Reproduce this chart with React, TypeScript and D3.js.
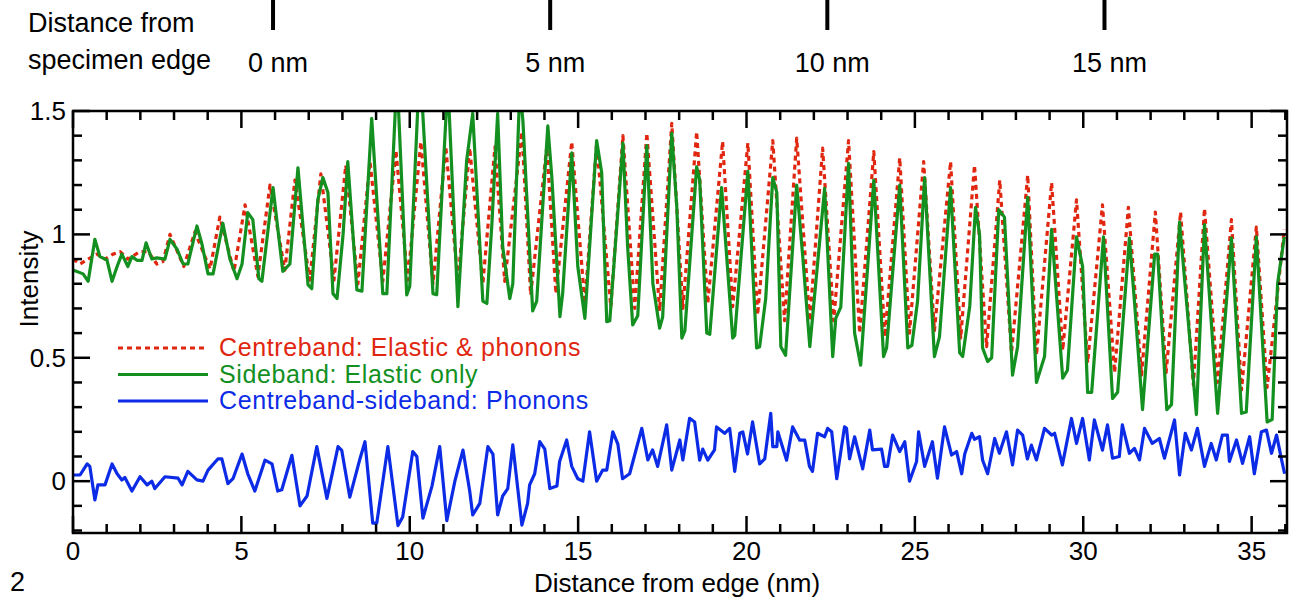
import React from "react";
import * as d3 from "d3";

// axis ticks
const xTicks = [0, 5, 10, 15, 20, 25, 30, 35];
const yTicks = [0, 0.5, 1, 1.5];
const yTickLabels = ["0", "0.5", "1", "1.5"];
const edgeTicks = [0, 5, 10, 15];
const edgeLabels = ["0 nm", "5 nm", "10 nm", "15 nm"];
// specimen-edge distance s sits at beam distance edgeStart + edgeStretch * s
const edgeStart = 5.94;
const edgeStretch = 1.646;

const legendLabels = [
  "Centreband: Elastic & phonons",
  "Sideband: Elastic only",
  "Centreband-sideband: Phonons",
];

// [distance (nm), intensity]
const centreband: [number, number][] = [
  [0, 0.9], [0.21, 0.88], [0.45, 0.9], [0.71, 0.92], [0.95, 0.9], [1.19, 0.92], [1.4, 0.93], [1.63, 0.9],
  [1.99, 0.93], [2.23, 0.93], [2.49, 0.88], [2.67, 0.89], [2.88, 1.0], [3.29, 0.87], [3.62, 1.01], [4.07, 0.86],
  [4.36, 1.07], [4.78, 0.85], [5.11, 1.12], [5.49, 0.83], [5.85, 1.2], [6.29, 0.855], [6.59, 1.22], [7.03, 0.815],
  [7.36, 1.245], [7.75, 0.815], [8.1, 1.28], [8.46, 0.8], [8.82, 1.295], [9.2, 0.81], [9.59, 1.34], [9.94, 0.815],
  [10.33, 1.375], [10.69, 0.8], [11.07, 1.355], [11.43, 0.81], [11.78, 1.35], [12.17, 0.8], [12.53, 1.355], [12.82, 0.81],
  [13.33, 1.416], [13.59, 0.755], [14.07, 1.355], [14.34, 0.76], [14.81, 1.375], [15.2, 0.72], [15.55, 1.37], [15.97, 0.707],
  [16.33, 1.4], [16.68, 0.7], [17.04, 1.41], [17.42, 0.69], [17.78, 1.45], [18.11, 0.7], [18.52, 1.416], [18.85, 0.72],
  [19.29, 1.376], [19.59, 0.707], [20.04, 1.37], [20.33, 0.674], [20.78, 1.38], [21.13, 0.65], [21.49, 1.39], [21.88, 0.65],
  [22.26, 1.35], [22.59, 0.65], [23.03, 1.38], [23.36, 0.6], [23.78, 1.335], [24.11, 0.585], [24.55, 1.31], [24.84, 0.6],
  [25.26, 1.295], [25.58, 0.61], [26.06, 1.295], [26.36, 0.58], [26.77, 1.28], [27.13, 0.545], [27.52, 1.22], [27.87, 0.52],
  [28.35, 1.24], [28.61, 0.51], [29.06, 1.21], [29.39, 0.53], [29.8, 1.14], [30.13, 0.48], [30.57, 1.12], [30.93, 0.44],
  [31.34, 1.11], [31.73, 0.43], [32.14, 1.09], [32.46, 0.44], [32.89, 1.09], [33.27, 0.39], [33.6, 1.105], [33.99, 0.4],
  [34.4, 1.06], [34.7, 0.37], [35.14, 1.03], [35.46, 0.38], [35.97, 1.02],
];

const sideband: [number, number][] = [
  [0, 0.856], [0.3, 0.84], [0.45, 0.81], [0.65, 0.98], [0.8, 0.91], [1.01, 0.896], [1.16, 0.81], [1.31, 0.87],
  [1.45, 0.92], [1.63, 0.87], [1.75, 0.91], [1.9, 0.895], [2.05, 0.895], [2.17, 0.966], [2.34, 0.9], [2.49, 0.905],
  [2.73, 0.9], [2.88, 0.98], [3.09, 0.94], [3.27, 0.88], [3.41, 0.88], [3.68, 1.034], [3.83, 0.96], [4.01, 0.84],
  [4.16, 0.84], [4.45, 1.045], [4.66, 0.9], [4.87, 0.82], [5.02, 0.88], [5.19, 1.088], [5.34, 1.06], [5.52, 0.82],
  [5.61, 0.81], [5.94, 1.19], [6.23, 0.85], [6.44, 0.88], [6.68, 1.27], [6.98, 0.795], [7.09, 0.78], [7.27, 1.14],
  [7.42, 1.23], [7.57, 1.17], [7.72, 0.76], [7.84, 0.74], [8.02, 1.0], [8.16, 1.295], [8.43, 0.775], [8.58, 0.77],
  [8.87, 1.47], [9.2, 0.76], [9.32, 0.76], [9.62, 1.65], [9.91, 0.755], [10.0, 0.79], [10.3, 1.7], [10.69, 0.76],
  [10.8, 0.755], [11.13, 1.62], [11.43, 0.707], [11.69, 1.3], [11.87, 1.49], [12.17, 0.73], [12.29, 0.72], [12.44, 1.045],
  [12.61, 1.49], [12.76, 0.95], [12.97, 0.74], [13.06, 0.8], [13.27, 1.6], [13.36, 1.46], [13.65, 0.69], [13.77, 0.73],
  [14.1, 1.44], [14.22, 1.23], [14.46, 0.667], [14.54, 0.76], [14.81, 1.33], [14.99, 0.87], [15.2, 0.66], [15.55, 1.38],
  [15.7, 1.25], [15.85, 0.646], [15.94, 0.65], [16.33, 1.37], [16.47, 0.95], [16.62, 0.633], [16.77, 0.67], [17.04, 1.36],
  [17.22, 0.8], [17.42, 0.62], [17.51, 0.665], [17.78, 1.41], [17.93, 1.11], [18.08, 0.58], [18.17, 0.61], [18.52, 1.274],
  [18.61, 1.22], [18.82, 0.6], [18.91, 0.595], [19.26, 1.19], [19.59, 0.58], [19.65, 0.59], [20.04, 1.255], [20.3, 0.54],
  [20.39, 0.545], [20.57, 0.74], [20.78, 1.23], [20.9, 1.17], [21.02, 0.545], [21.16, 0.51], [21.49, 1.2], [21.67, 0.91],
  [21.88, 0.545], [22.32, 1.187], [22.56, 0.505], [22.65, 0.66], [22.8, 0.705], [23.03, 1.288], [23.21, 0.6], [23.39, 0.47],
  [23.78, 1.22], [24.07, 0.505], [24.16, 0.54], [24.55, 1.2], [24.79, 0.54], [24.91, 0.55], [25.08, 0.73], [25.29, 1.23],
  [25.58, 0.505], [25.73, 0.585], [26.06, 1.19], [26.33, 0.52], [26.42, 0.505], [26.63, 0.71], [26.8, 1.11], [26.92, 1.0],
  [27.01, 0.54], [27.16, 0.485], [27.28, 0.5], [27.49, 1.1], [27.66, 1.07], [27.9, 0.43], [28.05, 0.545], [28.35, 1.15],
  [28.61, 0.4], [28.85, 0.505], [29.06, 1.02], [29.39, 0.417], [29.53, 0.45], [29.8, 0.99], [29.98, 0.87], [30.13, 0.36],
  [30.25, 0.36], [30.6, 0.99], [30.87, 0.335], [31.02, 0.36], [31.37, 0.985], [31.52, 0.73], [31.76, 0.29], [32.12, 0.92],
  [32.21, 0.92], [32.48, 0.29], [32.62, 0.31], [32.86, 1.05], [33.36, 0.27], [33.6, 1.04], [33.99, 0.275], [34.4, 0.985],
  [34.7, 0.275], [34.84, 0.28], [35.14, 0.99], [35.46, 0.24], [35.61, 0.25], [35.77, 0.8], [35.97, 0.99],
];

const phonons: [number, number][] = [
  [0, 0.025], [0.21, 0.025], [0.42, 0.07], [0.5, 0.06], [0.65, -0.076], [0.74, -0.015], [0.95, -0.015], [1.16, 0.07],
  [1.31, 0.03], [1.45, 0.005], [1.54, 0.015], [1.75, -0.04], [1.99, 0.018], [2.2, -0.015], [2.34, 0.0], [2.43, -0.03],
  [2.73, 0.018], [3.12, 0.012], [3.24, -0.015], [3.41, 0.04], [3.68, 0.005], [3.86, 0.0], [4.01, 0.045], [4.3, 0.09],
  [4.42, 0.09], [4.6, -0.01], [4.75, 0.01], [5.02, 0.11], [5.19, 0.03], [5.4, -0.04], [5.7, 0.085], [5.91, 0.07],
  [6.08, -0.04], [6.2, -0.035], [6.5, 0.105], [6.74, -0.1], [6.95, -0.06], [7.24, 0.14], [7.54, -0.07], [7.87, 0.14],
  [7.98, 0.125], [8.22, -0.065], [8.52, 0.09], [8.67, 0.16], [8.9, -0.17], [9.02, -0.17], [9.35, 0.14], [9.65, -0.18],
  [9.79, -0.145], [10.09, 0.12], [10.21, 0.1], [10.39, -0.15], [10.66, -0.02], [10.89, 0.14], [11.1, -0.16], [11.34, 0.0],
  [11.58, 0.126], [11.78, -0.04], [11.87, -0.137], [12.08, -0.09], [12.32, 0.14], [12.47, 0.11], [12.61, -0.137], [12.76, -0.06],
  [12.91, -0.03], [13.06, 0.147], [13.33, -0.178], [13.5, -0.09], [13.56, -0.015], [13.71, 0.03], [13.86, 0.16], [14.01, 0.13],
  [14.16, -0.03], [14.37, -0.02], [14.45, 0.08], [14.66, 0.167], [14.81, 0.06], [14.99, 0.01], [15.14, 0.0], [15.34, 0.2],
  [15.55, 0.0], [15.73, 0.045], [15.85, 0.045], [16.03, 0.2], [16.18, 0.15], [16.32, 0.01], [16.53, 0.03], [16.89, 0.214],
  [17.07, 0.086], [17.21, 0.127], [17.36, 0.06], [17.63, 0.228], [17.78, 0.045], [18.02, 0.167], [18.11, 0.086], [18.31, 0.255],
  [18.46, 0.24], [18.61, 0.085], [18.7, 0.13], [18.85, 0.085], [19.05, 0.127], [19.11, 0.22], [19.35, 0.194], [19.5, 0.214],
  [19.65, 0.04], [19.8, 0.194], [19.89, 0.2], [20.03, 0.11], [20.18, 0.24], [20.39, 0.07], [20.54, 0.09], [20.72, 0.275],
  [20.78, 0.14], [20.9, 0.14], [20.93, 0.2], [21.19, 0.085], [21.37, 0.22], [21.58, 0.166], [21.73, 0.166], [21.87, 0.06],
  [21.96, 0.04], [22.11, 0.194], [22.32, 0.18], [22.41, 0.214], [22.53, 0.2], [22.68, 0.01], [22.91, 0.22], [22.97, 0.214],
  [23.06, 0.09], [23.21, 0.18], [23.45, 0.05], [23.66, 0.207], [23.74, 0.127], [24.01, 0.13], [24.1, 0.06], [24.19, 0.06],
  [24.34, 0.187], [24.55, 0.12], [24.7, 0.16], [24.84, 0.0], [25.05, 0.08], [25.11, 0.2], [25.29, 0.06], [25.52, 0.16],
  [25.67, 0.012], [25.88, 0.22], [26.09, 0.106], [26.24, 0.12], [26.39, 0.03], [26.48, 0.11], [26.69, 0.194], [26.77, 0.17],
  [26.92, 0.18], [27.01, 0.086], [27.16, 0.03], [27.37, 0.173], [27.51, 0.113], [27.72, 0.2], [27.9, 0.066], [28.05, 0.207],
  [28.2, 0.187], [28.34, 0.09], [28.46, 0.146], [28.61, 0.086], [28.85, 0.214], [29.06, 0.187], [29.15, 0.194], [29.38, 0.066],
  [29.65, 0.254], [29.8, 0.153], [29.98, 0.254], [30.18, 0.086], [30.33, 0.248], [30.57, 0.126], [30.72, 0.228], [30.87, 0.093],
  [31.07, 0.1], [31.16, 0.228], [31.37, 0.113], [31.52, 0.133], [31.67, 0.086], [31.82, 0.214], [32.05, 0.153], [32.26, 0.173],
  [32.41, 0.093], [32.71, 0.248], [32.86, 0.025], [33.03, 0.194], [33.21, 0.126], [33.39, 0.214], [33.6, 0.06], [33.8, 0.153],
  [33.95, 0.086], [34.13, 0.187], [34.28, 0.187], [34.34, 0.08], [34.55, 0.167], [34.73, 0.072], [34.94, 0.18], [35.08, 0.03],
  [35.29, 0.2], [35.44, 0.207], [35.59, 0.113], [35.74, 0.187], [35.89, 0.086], [35.98, 0.03],
];

const RED = "#e0260f";
const GREEN = "#13901f";
const BLUE = "#0c2be6";
const FONT = "'Liberation Sans', Arial, Helvetica, sans-serif";

export default function App() {
  const left = 73, right = 1287, top = 111, bottom = 533;
  const x = d3.scaleLinear().domain([0, 36.05]).range([left, right]);
  const y = d3.scaleLinear().domain([-0.21, 1.5]).range([bottom, top]);
  const edgeX = (s: number) => x(edgeStart + edgeStretch * s);

  const line = d3
    .line<[number, number]>()
    .x((d) => x(d[0]))
    .y((d) => y(d[1]));

  const xMinor = d3.range(0, 37, 1);
  const yMinor = d3.range(-2, 16, 1).map((d) => d / 10);

  const series = [
    { data: centreband, color: RED, dash: "5,4" },
    { data: sideband, color: GREEN, dash: null },
    { data: phonons, color: BLUE, dash: null },
  ];

  return (
    <svg
      width={1291}
      height={604}
      style={{ position: "absolute", left: 0, top: 0, background: "#fff" }}
      fontFamily={FONT}
    >
      <defs>
        <clipPath id="plotClip">
          <rect x={left} y={top} width={right - left} height={bottom - top} />
        </clipPath>
      </defs>

      {/* top scale: distance from specimen edge */}
      <text x={28} y={32} fontSize={27}>Distance from</text>
      <text x={28} y={69} fontSize={27}>specimen edge</text>
      {edgeTicks.map((s, i) => (
        <g key={"e" + s}>
          <line x1={edgeX(s)} x2={edgeX(s)} y1={0} y2={30} stroke="#000" strokeWidth={4} />
          <text x={edgeX(s) + 5} y={72} fontSize={27} textAnchor="middle">
            {edgeLabels[i]}
          </text>
        </g>
      ))}

      {/* series */}
      <g clipPath="url(#plotClip)">
        {series.map((s, i) => (
          <path
            key={i}
            d={line(s.data) || ""}
            fill="none"
            stroke={s.color}
            strokeWidth={3.2}
            strokeDasharray={s.dash || undefined}
            strokeLinejoin="round"
          />
        ))}
      </g>

      {/* frame and ticks */}
      <rect x={left} y={top} width={right - left} height={bottom - top} fill="none" stroke="#000" strokeWidth={2.5} />
      {xMinor.map((d) => {
        const len = d % 5 === 0 ? 17 : 9;
        return (
          <g key={"x" + d}>
            <line x1={x(d)} x2={x(d)} y1={bottom} y2={bottom - len} stroke="#000" strokeWidth={2.5} />
            <line x1={x(d)} x2={x(d)} y1={top} y2={top + len} stroke="#000" strokeWidth={2.5} />
          </g>
        );
      })}
      {yMinor.map((d) => {
        const len = Math.round(d * 10) % 5 === 0 ? 17 : 9;
        return (
          <g key={"y" + d}>
            <line x1={left} x2={left + len} y1={y(d)} y2={y(d)} stroke="#000" strokeWidth={2.5} />
            <line x1={right} x2={right - len} y1={y(d)} y2={y(d)} stroke="#000" strokeWidth={2.5} />
          </g>
        );
      })}
      {xTicks.map((d) => (
        <text key={"xl" + d} x={x(d)} y={560} fontSize={26} textAnchor="middle">
          {d}
        </text>
      ))}
      {yTicks.map((d, i) => (
        <text key={"yl" + d} x={66} y={y(d) + 9} fontSize={26} textAnchor="end">
          {yTickLabels[i]}
        </text>
      ))}

      <text x={677} y={592} fontSize={26} textAnchor="middle">Distance from edge (nm)</text>
      <text transform="translate(38,279) rotate(-90)" fontSize={26} textAnchor="middle">Intensity</text>
      <text x={10} y={591} fontSize={27}>2</text>

      {/* legend */}
      {series.map((s, i) => {
        const ly = 348 + i * 26.5;
        return (
          <g key={"lg" + i}>
            <line x1={118} x2={208} y1={ly} y2={ly} stroke={s.color} strokeWidth={3} strokeDasharray={s.dash || undefined} />
            <text x={219} y={ly + 8} fontSize={25} letterSpacing={0.6} fill={s.color}>
              {legendLabels[i]}
            </text>
          </g>
        );
      })}
    </svg>
  );
}
